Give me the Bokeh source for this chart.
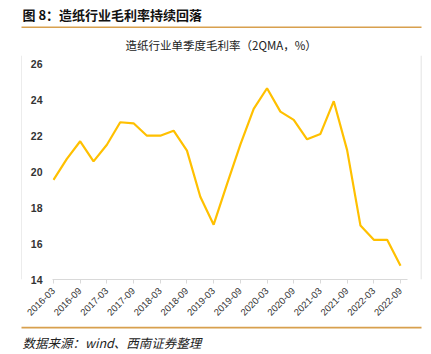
from bokeh.plotting import figure
from bokeh.embed import file_html
from bokeh.resources import INLINE
from bokeh.layouts import column, row
from bokeh.core.properties import value
from bokeh.models import FixedTicker, ColumnDataSource, Range1d

# ---- data ----
quarters = ["2016-03", "2016-06", "2016-09", "2016-12",
            "2017-03", "2017-06", "2017-09", "2017-12",
            "2018-03", "2018-06", "2018-09", "2018-12",
            "2019-03", "2019-06", "2019-09", "2019-12",
            "2020-03", "2020-06", "2020-09", "2020-12",
            "2021-03", "2021-06", "2021-09", "2021-12",
            "2022-03", "2022-06", "2022-09"]
gross_margin = [19.54, 20.71, 21.69, 20.57, 21.50, 22.75, 22.69, 22.00, 22.00,
                22.28, 21.17, 18.60, 17.05, 19.31, 21.50, 23.49, 24.64, 23.34,
                22.88, 21.80, 22.10, 23.92, 21.20, 17.00, 16.21, 16.21, 14.76]
y_ticks = [14, 16, 18, 20, 22, 24, 26]

title_text = "图 8：造纸行业毛利率持续回落"
chart_title = "造纸行业单季度毛利率（2QMA，%）"
source_text = "数据来源：wind、西南证券整理"

W = 431
RULE = "#D8A04E"
GREY = "#D9D9D9"
BOX_L, BOX_R = 21, 420          # page x of the chart box sides
TOP_H, MAIN_H, BOT_H = 28, 298, 28


def strip(w, h):
    # y measured upward from the strip's bottom edge
    f = figure(width=w, height=h, output_backend="svg", toolbar_location=None,
               x_range=Range1d(0, w), y_range=Range1d(0, h),
               x_axis_type=None, y_axis_type=None, min_border=0)
    f.outline_line_color = None
    f.grid.visible = False
    return f


# header: title text + upper rule
header = strip(W, TOP_H)
header.text(x=[22], y=[TOP_H - 14], text=[title_text], text_baseline="middle", text_align="left",
            text_font=value("Noto Sans CJK SC"), text_font_style="bold",
            text_font_size="13px", text_color="#111111")
header.quad(left=[BOX_L], right=[BOX_R + 1], top=[2], bottom=[0],
            fill_color=RULE, line_color=None)

# footer: lower rule + source text
footer = strip(W, BOT_H)
footer.quad(left=[BOX_L], right=[BOX_R + 1], top=[BOT_H], bottom=[BOT_H - 2],
            fill_color=RULE, line_color=None)
footer.text(x=[22], y=[BOT_H - 16], text=[source_text], text_baseline="middle", text_align="left",
            text_font=value("Noto Sans CJK SC"), text_font_style="italic",
            text_font_size="12.5px", text_color="#222222")

# side strips with the grey box edges
LW = BOX_L + 1
left_strip = strip(LW, MAIN_H)
left_strip.quad(left=[BOX_L], right=[BOX_L + 1], top=[MAIN_H], bottom=[0],
                fill_color=GREY, line_color=None)
CW = BOX_R - LW
RW = W - LW - CW
right_strip = strip(RW, MAIN_H)
right_strip.quad(left=[0], right=[1], top=[MAIN_H], bottom=[0],
                 fill_color=GREY, line_color=None)

# main chart: spans page x LW..BOX_R, y TOP_H..TOP_H+MAIN_H
CX, CY = LW, TOP_H
FL, FR, FT, FB = 52, 407, 55, 279  # desired frame edges in page pixels

idx = list(range(len(quarters)))
src = ColumnDataSource(dict(x=idx, y=gross_margin))

px_per_x = (400 - 53) / 26.0
x0 = -(53 - FL) / px_per_x
x1 = 26 + (FR - 400) / px_per_x
px_per_y = (278.7 - 63.3) / 12.0
y1 = 26 + (63.3 - FT) / px_per_y

p = figure(width=CW, height=MAIN_H, output_backend="svg", toolbar_location=None,
           x_range=Range1d(x0, x1), y_range=Range1d(14, y1),
           min_border_left=FL - CX, min_border_right=CX + CW - FR,
           min_border_top=FT - CY, min_border_bottom=CY + MAIN_H - FB,
           title=chart_title)
p.title.text_font = "Noto Sans CJK SC"
p.title.text_font_size = "11.5px"
p.title.text_font_style = "normal"
p.title.text_color = "#222222"
p.title.align = "left"
p.title.offset = 125 - FL
p.title.standoff = 5
p.outline_line_color = None
p.xgrid.grid_line_color = None
p.ygrid.grid_line_color = None

p.line("x", "y", source=src, line_color="#FFC000", line_width=2.2)

# y axis
p.yaxis.ticker = FixedTicker(ticks=y_ticks)
p.yaxis.axis_line_color = None
p.yaxis.major_tick_line_color = None
p.yaxis.minor_tick_line_color = None
p.yaxis.major_tick_out = 0
p.yaxis.major_tick_in = 0
p.yaxis.major_label_text_font = "Liberation Sans"
p.yaxis.major_label_text_font_size = "10.5px"
p.yaxis.major_label_text_font_style = "bold"
p.yaxis.major_label_text_color = "#333333"
p.yaxis.major_label_standoff = 10

# x axis
xt = idx[::2]
p.xaxis.ticker = FixedTicker(ticks=xt)
p.xaxis.major_label_overrides = {i: quarters[i] for i in xt}
p.xaxis.axis_line_color = GREY
p.xaxis.major_tick_line_color = GREY
p.xaxis.major_tick_in = 0
p.xaxis.major_tick_out = 4
p.xaxis.minor_tick_line_color = None
p.xaxis.major_label_orientation = 0.785
p.xaxis.major_label_text_font = "Liberation Sans"
p.xaxis.major_label_text_font_size = "9.5px"
p.xaxis.major_label_text_color = "#333333"
p.xaxis.major_label_standoff = 6

layout = column(header, row(left_strip, p, right_strip, spacing=0), footer, spacing=0)
open("out.html", "w").write(file_html(layout, INLINE))
